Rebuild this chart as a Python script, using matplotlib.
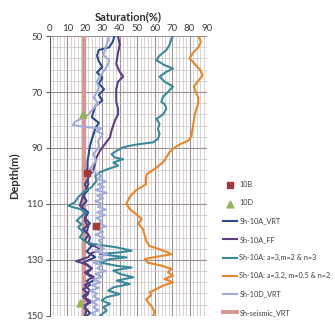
import numpy as np
import matplotlib.pyplot as plt
from matplotlib.ticker import MultipleLocator

plt.rcParams['font.family'] = ['Lato', 'DejaVu Sans']

# core samples
core_10b_x = [21.2, 26.2]
core_10b_depth = [98.8, 117.7]
core_10d_x = [19.0, 17.2]
core_10d_depth = [78.0, 145.5]

# Sh-10A_VRT
vrt_depth = [50, 52, 54, 55, 57, 59, 61, 63, 65, 67, 69, 71, 73, 75, 77, 79, 81, 83, 85,
             87, 89, 91, 93, 95, 97, 99, 101, 103, 105, 107, 109, 111, 113, 115, 117, 119,
             121, 123, 125, 127, 129, 131, 133, 135, 137, 139, 141, 143, 145, 147, 149, 150]
vrt_sat = [37, 36, 34, 28, 27, 28, 30, 27, 30, 28, 31, 28, 30, 26, 25, 24, 28, 26, 25,
           24, 23, 22.5, 22, 21.5, 21.5, 21, 22, 20, 22, 19, 21, 18, 22, 20, 23, 19,
           22, 20, 24, 21, 26, 19, 24, 21, 26, 20, 23, 19, 22, 20, 23, 21]

# Sh-10A_FF
ff_depth = [50, 53, 56, 60, 62.8, 64.5, 66.3, 69, 73.5, 76, 78, 80.2, 83.8, 86.2, 88.6, 91,
            93.4, 95.8, 98, 99.5, 101, 103, 105, 107, 109, 110.5, 112, 114, 116, 118, 120,
            122, 124, 125.5, 126.5, 127.5, 129, 130.5, 131.5, 133, 134.5, 136, 137.5, 139,
            140.5, 142, 143.5, 145, 146.5, 148, 150]
ff_sat = [39, 40, 39, 38, 40, 42, 39, 38, 38, 39, 39, 37.2, 35.3, 34.4, 31.5, 28.6,
          26.7, 25.8, 24.8, 22.9, 21.5, 22, 20.5, 19, 18, 17.2, 19, 21, 20, 22, 21,
          23, 22, 27, 29, 24, 22, 15, 21, 24, 20, 25, 21, 23,
          19, 22, 20, 24, 19, 21, 20]

# Sh-10A: a=3, m=2 & n=3
a3_depth = [50, 51, 53, 55, 57, 58.6, 60.4, 61.6, 62.8, 64.5, 66.3, 68, 70, 71.7, 73.5, 74.3,
            76, 78, 79.6, 81.4, 83.2, 85, 86.8, 88, 88.6, 89.2, 89.8, 91, 92.2, 93.4, 94,
            95.2, 96.3, 97.5, 98.7, 99.9, 101.7, 104, 105.8, 107.6, 109.4, 110.6, 111.2,
            111.8, 113.1, 114.8, 116, 117.2, 118.3, 120.1, 121.9, 123.7, 124.3, 125.5,
            126.7, 127.3, 127.9, 129.1, 129.7, 130.9, 132.1, 132.7, 133.8, 135, 136.2,
            137.4, 138.6, 139.8, 141, 142.2, 143.3, 144.5, 145.7, 146.9, 148.1, 150]
a3_sat = [70.5, 69.6, 68.6, 66.7, 62.8, 60.9, 65.7, 70.5, 66.7, 62.8, 65.7, 70.5, 67.6, 64.8,
          63.8, 65.7, 66.7, 64.8, 61, 62.8, 61.9, 62.8, 61.9, 59, 51.4, 45.7, 41.9, 38.2,
          35.3, 37.2, 41.9, 36.3, 39.1, 33.4, 28.6, 26, 26.7, 23.9, 19.1, 16.2, 14.3, 10.5,
          13.4, 17.2, 21, 17.2, 15.3, 18.2, 16.2, 19.1, 17.2, 21, 24.8, 38.2, 46.8, 40,
          28.6, 43.9, 34.4, 28.6, 38.2, 46.8, 36.3, 40.1, 47.7, 38.2, 45.8, 36.3, 33.4,
          40.1, 32.5, 29.6, 34.4, 30.6, 32.5, 28.6]

# Sh-10A: a=3.2, m=0.5 & n=2
a32_depth = [50, 52, 54, 56, 58, 60, 62, 64, 66, 68, 70, 72, 74, 76, 78, 80, 82, 84, 86,
             87.5, 88.5, 89.8, 91.5, 93.5, 95, 97.5, 99.3, 101, 103, 105, 107.5, 110, 112,
             113.6, 115.4, 117, 119, 121.3, 123, 125, 126, 127.3, 128, 129, 129.7, 131,
             132, 133.2, 134.4, 135.6, 136.8, 138, 139.2, 140.4, 141.5, 142.7, 144, 145,
             146.3, 147.5, 148.7, 150]
a32_sat = [85, 86.5, 85, 82, 80, 83, 86, 87.5, 85, 82.5, 83.5, 85, 85, 84, 83, 82.5, 82,
           81.5, 81, 79, 75, 71.5, 68.5, 66.5, 65, 60, 55.5, 55, 55, 49.5, 45.7, 43.8, 46,
           49.4, 52.6, 50.6, 53.3, 54.3, 55, 57, 62, 67.6, 69.5, 60, 54.3, 56,
           63.8, 69.5, 67.6, 70.5, 65.7, 70.5, 64.8, 61, 57.3, 58, 55.2, 56,
           58, 59, 60, 59]

# Sh-10D_VRT
d_depth = [50, 52, 54, 56.8, 58.5, 60.5, 62.8, 64.5, 66.3, 68, 70, 72, 74, 76, 78, 79.5,
           80.8, 81.8, 82.5, 83, 84, 85, 87.4, 89.8, 92.2, 94.5, 97.5, 99, 100, 101, 102,
           103, 104, 105, 106, 107, 108, 109, 110, 111, 112, 113, 114, 115, 116, 117, 118,
           119, 120, 121, 122, 123, 124, 125, 126, 127, 128, 129, 130, 131, 132, 133, 134,
           135, 136, 137, 138, 139, 140, 141, 142, 143, 144, 145, 146, 147, 148, 149, 150]
d_sat = [34, 33, 32, 30.5, 34, 33, 30.5, 28.6, 26.7, 28, 27, 25, 27.6, 24.8, 22, 18,
         14, 13.2, 20, 29.4, 26.5, 30.4, 27.6, 28, 24.8, 26.5, 22.9, 26, 30, 27, 32,
         27.5, 31, 26, 32.5, 27, 30.5, 26, 30, 27.5, 32, 27, 31.5, 26.5, 30, 28, 32,
         27, 30.5, 26, 31, 28, 30, 27, 31, 26, 33, 28, 31, 25, 30, 27, 32,
         26, 30, 25, 29, 24, 28, 23, 27, 25, 28, 24, 27, 25, 28, 24, 26]

# Sh-seismic_VRT
seis_sat = [19.5, 19.5]
seis_depth = [50, 150]

depth_ticks = [50, 70, 90, 110, 130, 150]


def main():
    fig = plt.figure(figsize=(3.35, 3.22), dpi=100)
    ax = fig.add_axes([0.149, 0.019, 0.469, 0.869])

    ax.plot(seis_sat, seis_depth, color='#d99694', lw=2.8, label='Sh-seismic_VRT', zorder=2)
    ax.plot(vrt_sat, vrt_depth, color='#2e4a8c', lw=1.5, label='Sh-10A_VRT', zorder=3)
    ax.plot(ff_sat, ff_depth, color='#5e3e80', lw=1.5, label='Sh-10A_FF', zorder=3)
    ax.plot(a3_sat, a3_depth, color='#3a8a9c', lw=1.5, label='Sh-10A: a=3,m=2 & n=3', zorder=3)
    ax.plot(a32_sat, a32_depth, color='#e8862e', lw=1.5,
            label='Sh-10A: a=3.2, m=0.5 & n=2', zorder=3)
    ax.plot(d_sat, d_depth, color='#a3acd8', lw=1.5, label='Sh-10D_VRT', zorder=3)
    ax.scatter(core_10b_x, core_10b_depth, marker='s', s=24, color='#a33a3a',
               label='10B', zorder=5)
    ax.scatter(core_10d_x, core_10d_depth, marker='^', s=24, color='#8fb556',
               label='10D', zorder=5)

    ax.set_xlim(0, 90)
    ax.set_ylim(150, 50)
    ax.xaxis.tick_top()
    ax.xaxis.set_label_position('top')
    ax.xaxis.set_major_locator(MultipleLocator(10))
    ax.xaxis.set_minor_locator(MultipleLocator(2))
    ax.set_yticks(depth_ticks)
    ax.set_yticks(np.arange(50, 151, 4), minor=True)
    ax.grid(which='major', color='#9d9090', lw=0.8)
    ax.grid(which='minor', color='#cbc4c4', lw=0.5)
    ax.set_axisbelow(True)
    ax.tick_params(which='both', length=0, labelsize=7, labelcolor='#404040', pad=2)
    ax.tick_params(which='major', axis='y', length=3, color='#606060')
    for s in ['right', 'bottom', 'top']:
        ax.spines[s].set_visible(False)
    ax.spines['left'].set_color('#606060')

    ax.set_xlabel('Saturation(%)', fontsize=8, fontweight='bold', color='#303030', labelpad=3)
    ax.set_ylabel('Depth(m)', fontsize=8, fontweight='bold', color='#303030', labelpad=4)

    handles, labels = ax.get_legend_handles_labels()
    order = ['10B', '10D', 'Sh-10A_VRT', 'Sh-10A_FF', 'Sh-10A: a=3,m=2 & n=3',
             'Sh-10A: a=3.2, m=0.5 & n=2', 'Sh-10D_VRT', 'Sh-seismic_VRT']
    hmap = dict(zip(labels, handles))
    fig.legend([hmap[k] for k in order], order, loc='upper left',
               bbox_to_anchor=(0.665, 0.437), frameon=False, fontsize=5.2,
               handlelength=2.0, handletextpad=0.3, labelspacing=1.55,
               borderaxespad=0, borderpad=0, labelcolor='#404040')

    fig.savefig('out.png', dpi=100)


if __name__ == '__main__':
    main()
